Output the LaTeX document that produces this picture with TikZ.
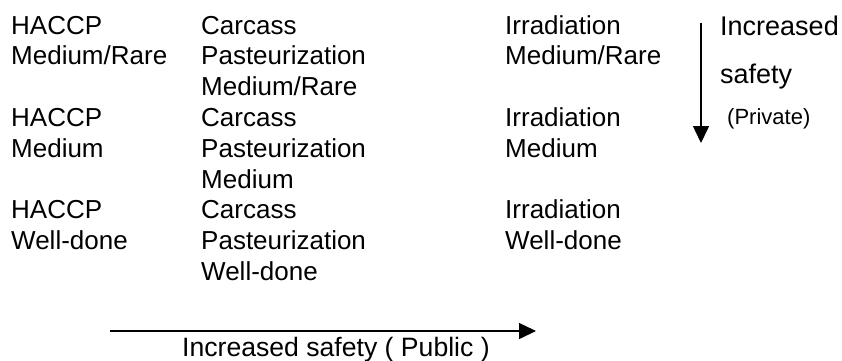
\documentclass[tikz,border=0pt]{standalone}
\usepackage{fontspec}
\setmainfont{Liberation Sans}
\usetikzlibrary{arrows.meta}
\begin{document}
\begin{tikzpicture}[x=1pt,y=-1pt,
  cell/.style={anchor=base west,inner sep=0pt,font=\fontsize{26}{30}\selectfont},
  side/.style={anchor=base west,inner sep=0pt,font=\fontsize{27}{30}\selectfont},
  small/.style={anchor=base west,inner sep=0pt,font=\fontsize{22}{26}\selectfont},
  arr/.style={line width=1.5pt,-{Triangle[length=17pt,width=16pt]}}]
\fill[white] (0,0) rectangle (842,360);
\useasboundingbox (0,0) rectangle (842,360);
% column 1
\node[cell] (a1) at (11,34) {HACCP};
\node[cell] (a2) at (11,64.8) {Medium/Rare};
\node[cell] (a4) at (11,126.4) {HACCP};
\node[cell] (a5) at (11,157.2) {Medium};
\node[cell] (a7) at (11,218.8) {HACCP};
\node[cell] (a8) at (11,249.6) {Well-done};
% column 2
\node[cell] (b1) at (201,34) {Carcass};
\node[cell] (b2) at (201,64.8) {Pasteurization};
\node[cell] (b3) at (201,95.6) {Medium/Rare};
\node[cell] (b4) at (201,126.4) {Carcass};
\node[cell] (b5) at (201,157.2) {Pasteurization};
\node[cell] (b6) at (201,188) {Medium};
\node[cell] (b7) at (201,218.8) {Carcass};
\node[cell] (b8) at (201,249.6) {Pasteurization};
\node[cell] (b9) at (201,280.4) {Well-done};
% column 3
\node[cell] (c1) at (505,34) {Irradiation};
\node[cell] (c2) at (505,64.8) {Medium/Rare};
\node[cell] (c4) at (505,126.4) {Irradiation};
\node[cell] (c5) at (505,157.2) {Medium};
\node[cell] (c7) at (505,218.8) {Irradiation};
\node[cell] (c8) at (505,249.6) {Well-done};
% private safety
\node[side] (p1) at (720,35) {Increased};
\node[side] (p2) at (720,83) {safety};
\node[small] (p3) at (727,124) {(Private)};
\coordinate (vs) at (701,23);
\coordinate (ve) at (701,143);
\draw[arr] (vs) -- (ve);
% public safety
\coordinate (hs) at (110,331);
\coordinate (he) at (536,331);
\draw[arr] (hs) -- (he);
\node[cell,font=\fontsize{26.6}{30}\selectfont] (pub) at (182,356) {Increased safety ( Public )};
\end{tikzpicture}
\end{document}
